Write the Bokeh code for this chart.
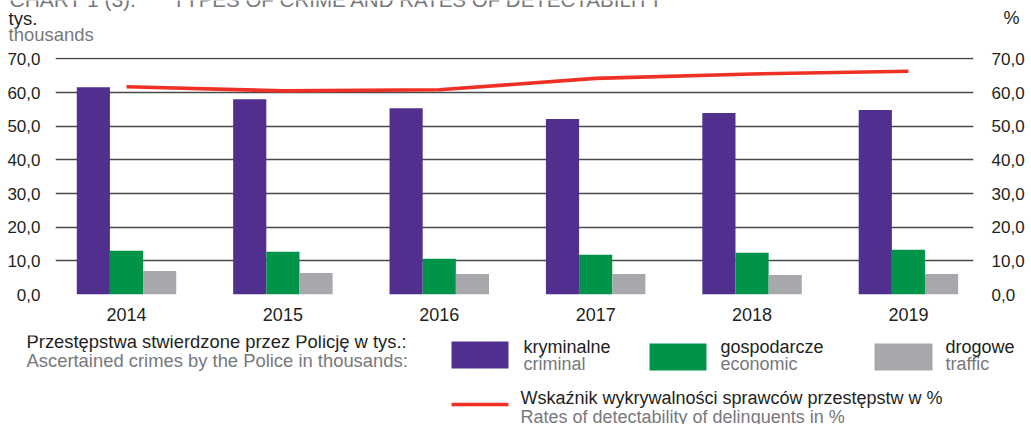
from bokeh.plotting import figure
from bokeh.layouts import column
from bokeh.models import ColumnDataSource, Range1d, LinearAxis, FixedTicker
from bokeh.core.properties import value
from bokeh.transform import dodge
from bokeh.embed import file_html
from bokeh.resources import INLINE

# ---- data ----
years = ["2014", "2015", "2016", "2017", "2018", "2019"]
kryminalne = [61.6, 58.0, 55.3, 52.1, 53.9, 54.8]
gospodarcze = [13.0, 12.7, 10.6, 11.8, 12.4, 13.3]
drogowe = [7.0, 6.4, 6.1, 6.1, 5.8, 6.1]
wskaznik = [61.7, 60.5, 60.8, 64.2, 65.5, 66.3]
y_ticks = [0, 10, 20, 30, 40, 50, 60, 70]
y_tick_labels = ["0,0", "10,0", "20,0", "30,0", "40,0", "50,0", "60,0", "70,0"]

PURPLE = "#512F8F"
GREEN = "#00944A"
GREY = "#A7A8AB"
RED = "#EE3124"
TXT = "#231F20"
GTXT = "#77787B"
FONT = "Liberation Sans"

W = 1031
H_TOP, H_MAIN, H_LEG = 45, 290, 89   # page bands: 0-45, 45-335, 335-424


def blank(h, y0):
    f = figure(width=W, height=h, output_backend="svg", toolbar_location=None,
               x_range=Range1d(0, W), y_range=Range1d(y0 + h, y0),
               x_axis_location=None, y_axis_location=None,
               min_border=0, outline_line_color=None)
    f.grid.visible = False
    f.frame_align = False
    return f


def txt(f, x, y, text, color=TXT, size=18, align="left"):
    # y = wanted baseline (page px); small correction for the renderer's baseline offset
    f.text(x=[x], y=[y - 0.33 * size], text=[text], text_font=value(FONT),
           text_font_size=f"{size}px", text_color=color, text_align=align,
           text_baseline="alphabetic")


# ---- header ----
top = blank(H_TOP, 0)
txt(top, 9, 5.5, "CHART 1 (3).", GTXT, 21)
txt(top, 172, 5.5, "TYPES OF CRIME AND RATES OF DETECTABILITY", GTXT, 20.5)
txt(top, 8, 24.5, "tys.", TXT, 18.5)
txt(top, 8, 40.5, "thousands", GTXT, 18.5)
txt(top, 1019, 23, "%", TXT, 18, "right")

# ---- main chart ----
xs = list(range(len(years)))
src = ColumnDataSource(dict(x=xs, k=kryminalne, g=gospodarcze, d=drogowe, w=wskaznik))

p = figure(width=W, height=H_MAIN, output_backend="svg", toolbar_location=None,
           x_range=Range1d(-0.454, 5.416), y_range=Range1d(0, 70.4),
           min_border_left=55, min_border_right=58, min_border_top=12,
           min_border_bottom=41, outline_line_color=None)
p.frame_align = False
p.extra_y_ranges = {"pct": Range1d(0, 70.4)}

bw = 0.212
p.vbar(x=dodge("x", -bw, range=p.x_range), top="k", width=bw, source=src,
       fill_color=PURPLE, line_color=None)
p.vbar(x=dodge("x", 0, range=p.x_range), top="g", width=bw, source=src,
       fill_color=GREEN, line_color=None)
p.vbar(x=dodge("x", bw, range=p.x_range), top="d", width=bw, source=src,
       fill_color=GREY, line_color=None)
p.line(x="x", y="w", source=src, y_range_name="pct", line_color=RED, line_width=3.6)

overrides = {t: l for t, l in zip(y_ticks, y_tick_labels)}


def style_axis(ax, standoff, size="17px"):
    ax.axis_line_color = None
    ax.major_tick_line_color = None
    ax.minor_tick_line_color = None
    ax.major_label_text_font = FONT
    ax.major_label_text_font_size = size
    ax.major_label_text_color = TXT
    ax.major_label_standoff = standoff


yl = p.yaxis[0]
yl.ticker = FixedTicker(ticks=y_ticks)
yl.major_label_overrides = overrides
style_axis(yl, 9)

yr = LinearAxis(y_range_name="pct", ticker=FixedTicker(ticks=y_ticks))
yr.major_label_overrides = overrides
style_axis(yr, 12)
p.add_layout(yr, "right")

xa = p.xaxis[0]
xa.ticker = FixedTicker(ticks=xs)
xa.major_label_overrides = {i: y for i, y in zip(xs, years)}
style_axis(xa, 7, "18px")

p.xgrid.grid_line_color = None
p.ygrid.ticker = FixedTicker(ticks=y_ticks)
p.ygrid.grid_line_color = "#4a4a4a"
p.ygrid.grid_line_width = 1.4

# ---- legend ----
leg = blank(H_LEG, H_MAIN + H_TOP)
txt(leg, 26, 347, "Przestępstwa stwierdzone przez Policję w tys.:", TXT, 18.4)
txt(leg, 26, 366, "Ascertained crimes by the Police in thousands:", GTXT, 18.4)

leg.quad(left=[451], right=[508], top=[341], bottom=[368], fill_color=PURPLE, line_color=None)
txt(leg, 523, 352, "kryminalne")
txt(leg, 523, 369, "criminal", GTXT)
leg.quad(left=[649], right=[706], top=[343], bottom=[370], fill_color=GREEN, line_color=None)
txt(leg, 720, 352, "gospodarcze")
txt(leg, 720, 369, "economic", GTXT)
leg.quad(left=[874], right=[932], top=[343], bottom=[370], fill_color=GREY, line_color=None)
txt(leg, 945, 352, "drogowe")
txt(leg, 945, 369, "traffic", GTXT)

leg.line(x=[451, 508], y=[404, 404], line_color=RED, line_width=3.6)
txt(leg, 520, 403, "Wskaźnik wykrywalności sprawców przestępstw w %")
txt(leg, 520, 422, "Rates of detectability of delinquents in %", GTXT)

layout = column(top, p, leg, spacing=0)
open("out.html", "w").write(file_html(layout, INLINE))
